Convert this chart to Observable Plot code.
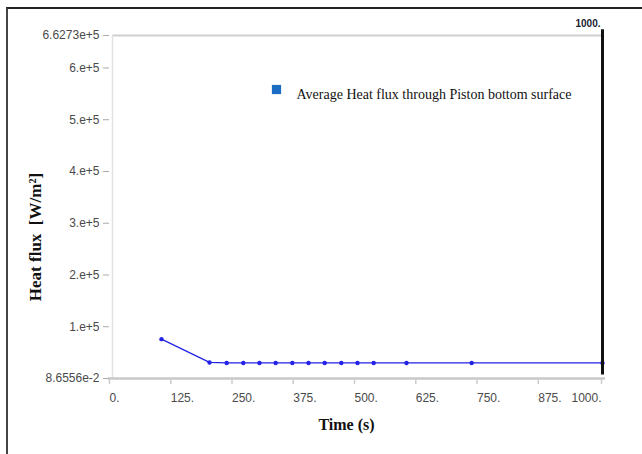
<!DOCTYPE html>
<html>
<head>
<meta charset="utf-8">
<script src="https://cdn.jsdelivr.net/npm/d3@7"></script>
<script src="https://cdn.jsdelivr.net/npm/@observablehq/plot@0.6"></script>
<style>
  html, body { margin: 0; padding: 0; background: #fff; }
  #wrap { position: relative; width: 642px; height: 454px; overflow: hidden; }
  #frame { position: absolute; left: 6px; top: 7px; width: 700px; height: 500px;
           border-top: 2px solid #222; border-left: 2px solid #444; box-sizing: border-box; }
  #chart { position: absolute; left: 0; top: 0; }
</style>
</head>
<body>
<div id="wrap"><div id="frame"></div><div id="chart"></div></div>
<script>
const times = [100, 198, 233, 267, 300, 333, 367, 400, 433, 467, 500, 533, 600, 733, 1000];
const heatFlux = [76000, 31000, 30000, 30000, 30000, 30000, 30000, 30000, 30000, 30000, 30000, 30000, 30000, 30000, 30000];
const yTicks = [0.086556, 100000, 200000, 300000, 400000, 500000, 600000, 662730];
const yTickLabels = ["8.6556e-2", "1.e+5", "2.e+5", "3.e+5", "4.e+5", "5.e+5", "6.e+5", "6.6273e+5"];
const xTicks = [0, 125, 250, 375, 500, 625, 750, 875, 1000];
const xTickLabels = ["0.", "125.", "250.", "375.", "500.", "625.", "750.", "875.", "1000."];
const seriesName = "Average Heat flux through Piston bottom surface";
const yLabel = "Heat flux  [W/m²]";
const xLabel = "Time (s)";
const cursorTime = 1000;

const data = times.map((t, i) => ({t, v: heatFlux[i]}));
const yMap = new Map(yTicks.map((d, i) => [d, yTickLabels[i]]));
const xMap = new Map(xTicks.map((d, i) => [d, xTickLabels[i]]));
const serif = "'Liberation Serif', 'Times New Roman', serif";

const chart = Plot.plot({
  width: 642,
  height: 454,
  marginLeft: 112,
  marginRight: 40,
  marginTop: 35,
  marginBottom: 76,
  style: {background: "transparent", fontFamily: "'Liberation Sans', Arial, sans-serif", fontSize: "12px", color: "#555"},
  x: {domain: [0, 1000]},
  y: {domain: [0.086556, 662730]},
  marks: [
    Plot.ruleY([662730], {stroke: "#cfcfcf", strokeWidth: 2, insetRight: -2}),
    Plot.ruleX([0], {stroke: "#e2e2e2", strokeWidth: 1.5}),
    Plot.ruleY([0.086556], {stroke: "#c8c8c8", strokeWidth: 2.5, insetLeft: -4, insetRight: -3}),
    Plot.axisY({ticks: yTicks, tickFormat: d => yMap.get(d), tickSize: 6, tickPadding: 4, dx: -3,
      stroke: "#aaa", fill: "#4a4a4a", label: null, fontSize: 12}),
    Plot.axisX({ticks: xTicks.filter(d => d !== 1000), tickFormat: d => xMap.get(d), tickSize: 6, tickPadding: 9,
      textAnchor: "start", dx: -3,
      stroke: "#ccc", strokeWidth: 1.5, fill: "#4a4a4a", label: null, fontSize: 12}),
    Plot.axisX({ticks: [1000], tickFormat: d => xMap.get(d), tickSize: 6, tickPadding: 9,
      textAnchor: "end", dx: -1,
      stroke: "#ccc", strokeWidth: 1.5, fill: "#4a4a4a", label: null, fontSize: 12}),
    Plot.line(data, {x: "t", y: "v", stroke: "#2323e8", strokeWidth: 1.3}),
    Plot.dot(data, {x: "t", y: "v", fill: "#2323e8", r: 2.2}),
    Plot.ruleX([cursorTime], {y1: 7000, y2: 674000, stroke: "#111", strokeWidth: 3}),
    Plot.text([cursorTime], {x: d => d, frameAnchor: "top", dy: -16, dx: -2, textAnchor: "end",
      text: d => xMap.get(d), fontWeight: "bold", fontSize: 10, fill: "#223"}),
    Plot.text([yLabel], {frameAnchor: "left", textAnchor: "middle", dx: -77, dy: 30, rotate: -90,
      fontFamily: serif, fontWeight: "bold", fontSize: 17, fill: "#111"}),
    Plot.text([xLabel], {frameAnchor: "bottom", dx: -11, dy: 51,
      fontFamily: serif, fontWeight: "bold", fontSize: 16, fill: "#111"}),
    Plot.dot([seriesName], {frameAnchor: "top-left", dx: 164, dy: 54, symbol: "square", r: 5.2, fill: "#1c6cc4", stroke: "none"}),
    Plot.text([seriesName], {frameAnchor: "top-left", dx: 184, dy: 54, textAnchor: "start",
      fontFamily: serif, fontSize: 14, fill: "#111"})
  ]
});
document.getElementById("chart").appendChild(chart);
</script>
</body>
</html>
